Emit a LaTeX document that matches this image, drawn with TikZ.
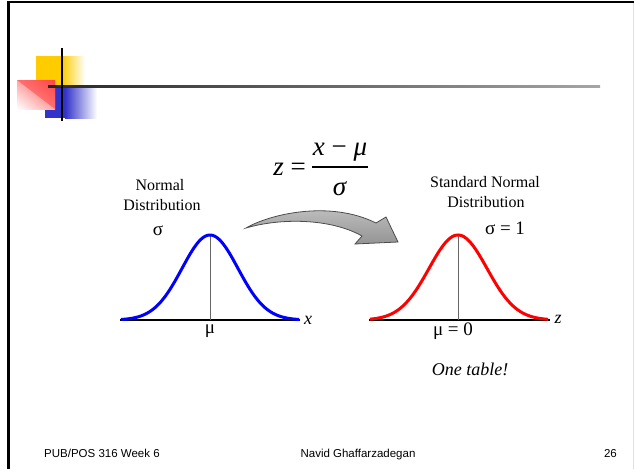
\documentclass[tikz,border=0pt]{standalone}
\usepackage{fontspec}
\setmainfont{Liberation Serif}
\newfontfamily\footfont{Liberation Sans}
\usetikzlibrary{positioning,shadings}
\definecolor{logoyellow}{RGB}{255,204,0}
\definecolor{logoblue}{RGB}{51,51,204}
\tikzset{
  lbl/.style={font=\fontsize{16}{18}\selectfont, inner sep=0pt, anchor=base},
  grk/.style={font=\fontsize{19}{21}\selectfont, inner sep=0pt, anchor=base},
  fml/.style={font=\fontsize{27}{30}\selectfont, inner sep=0pt, anchor=base},
  foot/.style={font=\footfont\fontsize{11.5}{13}\selectfont, inner sep=0pt, anchor=base},
  bell/.style={line width=3pt, smooth, samples=90}
}

\begin{document}
\begin{tikzpicture}[x=1pt,y=-1pt]
\useasboundingbox (0,0) rectangle (634,469);
% slide frame
\fill[black] (7,1) rectangle (634,3.2);
\fill[black] (7,1) rectangle (9.5,469);
\fill[black!12] (632.5,3) rectangle (634,469);
% logo
\fill[logoyellow] (36,56) rectangle (62,85);
\shade[left color=logoyellow, right color=white] (62,56) rectangle (85,85);
\fill[logoblue] (45,85) rectangle (65,118);
\shade[left color=logoblue, right color=white] (65,85) rectangle (97,118);
\shade[upper left=red!35, upper right=red!75, lower left=white, lower right=red!35] (17,80) rectangle (55,109);
\fill[red!70, opacity=0.6] (17,80) -- (55,80) -- (55,109) -- cycle;
\shade[left color=black!85, right color=black!35] (48,85) rectangle (600,87.5);
\fill[black] (60.5,48) rectangle (63,121);

% formula
\node[fml, anchor=base east] (zeq) at (306,175) {\textit{z} =};
\node[fml] (num) at (340,155) {\textit{x} − \textit{μ}};
\node[fml] (den) at (340,195) {\textit{σ}};
\coordinate (barL) at (312,167);
\coordinate (barR) at (368,167);
\draw[line width=1.6pt] (barL) -- (barR);

% left curve
\coordinate (axL1) at (120,320);
\coordinate (axL2) at (300,320);
\coordinate (pkL) at (210,235);
\draw[line width=1.7pt] (axL1) -- (axL2);
\draw[black!60, line width=1pt] (pkL) -- (210,320);
\draw[bell, blue] plot[domain=121:299] (\x, {320-85*exp(-((\x-210)/28)*((\x-210)/28)/2)});
\node[lbl] (nrm1) at (160,190) {Normal};
\node[lbl] (nrm2) at (162,210) {Distribution};
\node[grk] (sgL) at (158,235) {σ};
\node[grk] (muL) at (210,333) {μ};
\node[lbl, font=\fontsize{18}{20}\selectfont\itshape] (xL) at (308,324) {x};

% right curve
\coordinate (axR1) at (369,320);
\coordinate (axR2) at (550,320);
\coordinate (pkR) at (458,235);
\draw[line width=1.7pt] (axR1) -- (axR2);
\draw[black!60, line width=1pt] (pkR) -- (458,320);
\draw[bell, red] plot[domain=370:548] (\x, {320-85*exp(-((\x-458)/29)*((\x-458)/29)/2)});
\node[lbl] (std1) at (485,187) {Standard Normal};
\node[lbl] (std2) at (486,207) {Distribution};
\node[grk] (sgR) at (505,234) {σ = 1};
\node[grk] (muR) at (453,335) {μ = 0};
\node[lbl, font=\fontsize{18}{20}\selectfont\itshape] (zR) at (558,323) {z};
\node[lbl, font=\fontsize{18}{20}\selectfont\itshape] (tbl) at (470,375) {One table!};

% curved arrow
\shade[top color=black!22, bottom color=black!42, draw=black!70, line width=0.8pt]
  (246,228) .. controls (270,214) and (330,200) .. (376,223)
  -- (386,217) -- (398,242) -- (355,244) -- (362,236)
  .. controls (330,218) and (280,218) .. (246,228) -- cycle;

% footer
\node[foot, anchor=base west] (ft1) at (44,457.5) {PUB/POS 316 Week 6};
\node[foot] (ft2) at (358,457.5) {Navid Ghaffarzadegan};
\node[foot, anchor=base east] (ft3) at (617,457.5) {26};
\end{tikzpicture}
\end{document}
